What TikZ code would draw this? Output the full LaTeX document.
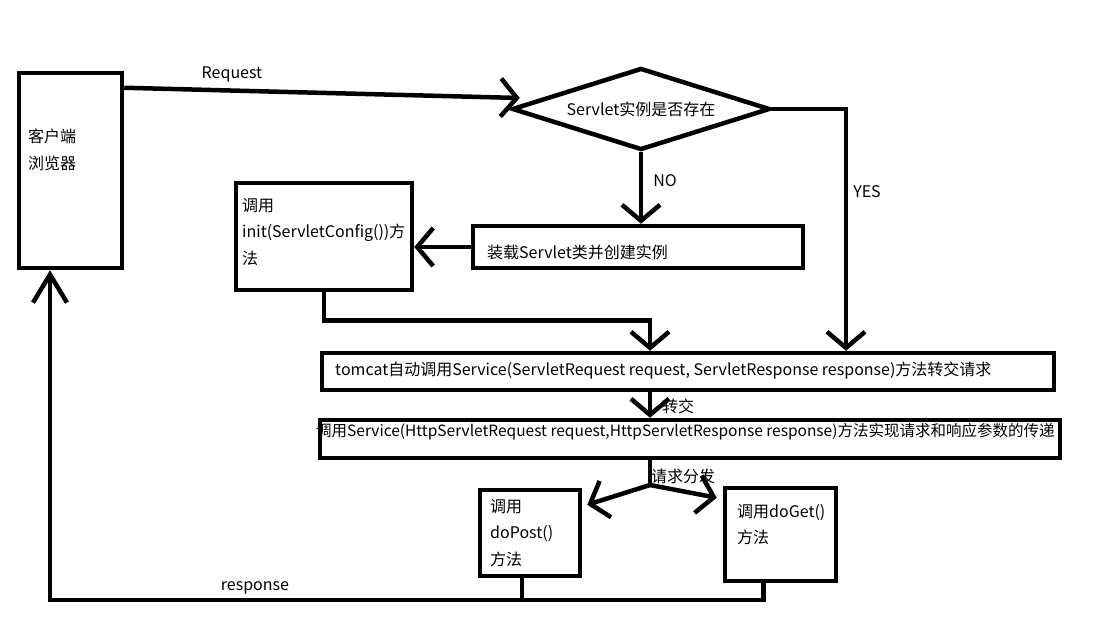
\documentclass[tikz,border=0pt]{standalone}
\usepackage{fontspec}
\setmainfont{Noto Sans CJK SC}
\usetikzlibrary{arrows.meta,shapes.geometric}
\tikzset{
  box/.style={draw, line width=4.5pt, inner sep=0pt},
  txt/.style={inner sep=0pt, anchor=west, align=left, font=\fontsize{16}{26.5}\selectfont},
  lbl/.style={inner sep=0pt, font=\fontsize{16}{20}\selectfont},
  flow/.style={line width=4.5pt},
  arr/.style={-{Straight Barb[length=16pt,width=38pt]}},
}
\begin{document}
\begin{tikzpicture}[x=1pt,y=-1pt]
  \useasboundingbox (0,0) rectangle (1112,622);

  \node[box, minimum width=103pt, minimum height=195pt] (client) at (70.5,170.5) {};
  \node[txt] (clientText) at (28,150) {客户端\\浏览器};
  \node[box, diamond, aspect=3.1, minimum width=258pt, minimum height=82pt,
        font=\fontsize{16}{20}\selectfont] (dec) at (641,109) {Servlet实例是否存在};
  \node[box, minimum width=330pt, minimum height=42pt] (load) at (638,247) {};
  \node[txt] (loadText) at (487,252) {装载Servlet类并创建实例};
  \node[box, minimum width=176pt, minimum height=107pt] (init) at (324,236.5) {};
  \node[txt] (initText) at (242,232) {调用\\init(ServletConfig())方\\法};
  \node[box, minimum width=732pt, minimum height=37pt] (tomcat) at (688,371.5) {};
  \node[txt] (tomcatText) at (335,371) {tomcat自动调用Service(ServletRequest request, ServletResponse response)方法转交请求};
  \node[box, minimum width=740pt, minimum height=38pt] (svc) at (690,439) {};
  \node[txt, font=\fontsize{15.5}{20}\selectfont] (svcText) at (316,432) {调用Service(HttpServletRequest request,HttpServletResponse response)方法实现请求和响应参数的传递};
  \node[box, minimum width=100pt, minimum height=86pt] (post) at (530,533) {};
  \node[txt] (postText) at (490,533) {调用\\doPost()\\方法};
  \node[box, minimum width=111pt, minimum height=93pt] (get) at (780.5,534.5) {};
  \node[txt] (getText) at (737,524.5) {调用doGet()\\方法};

  \coordinate (spine) at (650,0);
  \coordinate (yes) at (846,0);
  \coordinate (split) at (650,485);
  \coordinate (back) at (50,600);

  \draw[flow, arr] ([yshift=-17pt]client.north east) -- ([xshift=10pt,yshift=11pt]dec.west);
  \node[lbl] (reqLabel) at (232,74) {Request};
  \draw[flow, arr] (dec.south) -- (dec.south |- load.north);
  \node[lbl] (noLabel) at (665,181) {NO};
  \draw[flow, arr] (dec.east) -| (yes |- tomcat.north);
  \node[lbl] (yesLabel) at (867,192) {YES};
  \draw[flow, arr] (load.west) -- (load.west -| init.east);
  \draw[flow, arr] (init.south) -- ++(0,28) -| (spine |- tomcat.north);
  \draw[flow, arr] (spine |- tomcat.south) -- (spine |- svc.north);
  \node[lbl] (fwdLabel) at (678,406) {转交};
  \draw[flow] (spine |- svc.south) -- (split);
  \draw[flow, arr] (split) -- ([xshift=5pt,yshift=-17pt]post.north east);
  \draw[flow, arr] (split) -- ([xshift=-6pt,yshift=-12pt]get.north west);
  \node[lbl] (dispLabel) at (683,476) {请求分发};
  \draw[flow] ([xshift=-8pt]post.south) -- ++(0,24);
  \draw[flow, -{Straight Barb[length=28pt,width=34pt]}] ([xshift=-17pt]get.south) |- (back) -- (back |- client.south);
  \node[lbl] (respLabel) at (255,588) {response};
\end{tikzpicture}
\end{document}
